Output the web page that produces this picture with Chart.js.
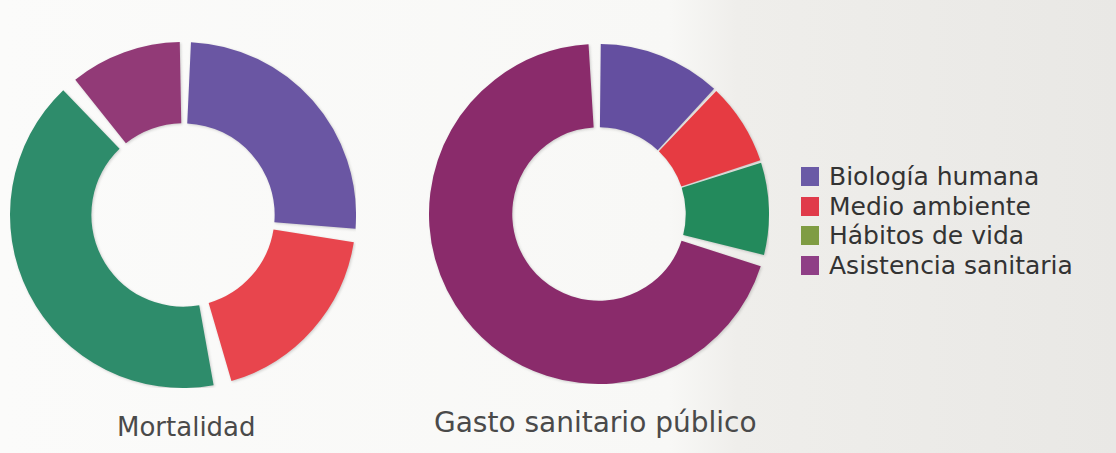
<!DOCTYPE html>
<html>
<head>
<meta charset="utf-8">
<script src="https://cdn.jsdelivr.net/npm/chart.js@4"></script>
<style>
  html, body { margin: 0; padding: 0; }
  body {
    width: 1116px; height: 453px; overflow: hidden; position: relative;
    background: linear-gradient(90deg, #fbfbfa 0%, #f8f8f6 60%, #efeeeb 66%, #e9e8e5 100%);
    font-family: "DejaVu Sans", sans-serif;
  }
  .chart-box { position: absolute; }
  .caption { position: absolute; font-size: 26px; color: #4a4a4a; white-space: nowrap; }
  #legend { position: absolute; left: 801px; top: 162px; }
  .legend-row { display: flex; align-items: center; height: 29.5px; font-size: 25px; color: #333; }
  .legend-box { width: 18px; height: 19px; margin-right: 10px; }
</style>
</head>
<body>

<div class="chart-box" style="left:10px; top:42px; width:346px; height:346px;">
  <canvas id="mortalidadChart"></canvas>
</div>
<div class="chart-box" style="left:429px; top:44px; width:340px; height:340px;">
  <canvas id="gastoChart"></canvas>
</div>

<div class="caption" style="left:117px; top:412px;">Mortalidad</div>
<div class="caption" style="left:434px; top:406px; font-size:28px;">Gasto sanitario público</div>

<div id="legend"></div>

<script>
// Data (percent)
const categories = ['Biología humana', 'Medio ambiente', 'Hábitos de vida', 'Asistencia sanitaria'];
const mortalidad = [27, 19, 43, 11];
const gastoSanitario = [12, 8, 9, 71];

const sliceColors = ['#6a56a3', '#e8454d', '#2e8c6b', '#923a77'];
const gastoColors = ['#644fa0', '#e63b42', '#238a5c', '#8a2b6b'];
const legendColors = ['#6a5aa6', '#e03a4a', '#7f9c43', '#8f3f86'];

// Build legend
function buildLegend() {
    const legend = document.getElementById('legend');
    categories.forEach((name, i) => {
        const row = document.createElement('div');
        row.className = 'legend-row';
        const box = document.createElement('div');
        box.className = 'legend-box';
        box.style.background = legendColors[i];
        const label = document.createElement('span');
        label.textContent = name;
        row.appendChild(box);
        row.appendChild(label);
        legend.appendChild(row);
    });
}

// Soft shadow to hint at the printed 3D look
const shadowPlugin = {
    id: 'softShadow',
    beforeDatasetsDraw(chart) {
        const ctx = chart.ctx;
        ctx.save();
        ctx.shadowColor = 'rgba(0,0,0,0.18)';
        ctx.shadowBlur = 3;
        ctx.shadowOffsetX = 1;
        ctx.shadowOffsetY = 1;
    },
    afterDatasetsDraw(chart) {
        chart.ctx.restore();
    }
};

function makeDoughnut(id, values, colors, gap, cut) {
    new Chart(document.getElementById(id).getContext('2d'), {
        type: 'doughnut',
        data: {
            labels: categories,
            datasets: [{
                data: values,
                backgroundColor: colors,
                borderWidth: 0,
                spacing: gap
            }]
        },
        options: {
            responsive: true,
            maintainAspectRatio: false,
            animation: false,
            cutout: cut,
            layout: { padding: 0 },
            plugins: {
                legend: { display: false },
                tooltip: { enabled: false }
            }
        },
        plugins: [shadowPlugin]
    });
}

document.addEventListener('DOMContentLoaded', function() {
    buildLegend();
    makeDoughnut('mortalidadChart', mortalidad, sliceColors, 14, '51%');
    makeDoughnut('gastoChart', gastoSanitario, gastoColors, 7, '50%');
});
</script>
</body>
</html>
